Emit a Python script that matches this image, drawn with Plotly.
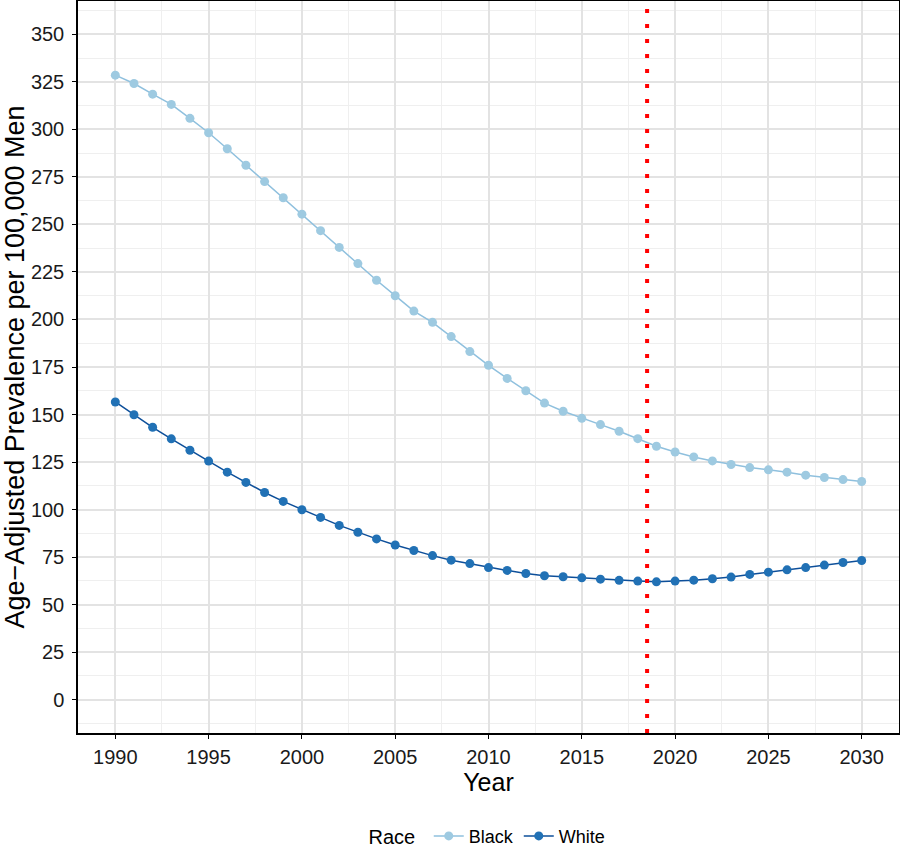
import plotly.graph_objects as go

years = list(range(1990, 2031))
black = [328.5, 324.1, 318.5, 313.1, 305.8, 298.2, 289.8, 281.1, 272.5, 264.0,
         255.4, 246.7, 237.9, 229.4, 220.6, 212.5, 204.4, 198.5, 191.0, 183.1,
         175.9, 169.0, 162.5, 156.0, 151.7, 148.0, 144.7, 141.2, 137.3, 133.3,
         130.3, 127.7, 125.6, 123.7, 122.1, 120.9, 119.7, 118.1, 116.9, 115.8, 114.8]
white = [156.6, 149.9, 143.3, 137.2, 131.2, 125.5, 119.7, 114.3, 109.0, 104.3,
         99.9, 95.9, 91.7, 88.1, 84.6, 81.4, 78.5, 75.8, 73.4, 71.6,
         69.5, 68.0, 66.4, 65.2, 64.7, 64.1, 63.4, 62.8, 62.4, 62.0,
         62.4, 62.9, 63.6, 64.5, 65.9, 67.1, 68.3, 69.5, 70.8, 72.2, 73.2]
cutoff_year = 2018.5
x_ticks = list(range(1990, 2031, 5))
y_ticks = list(range(0, 351, 25))

FONT = "Liberation Sans, Arial"

fig = go.Figure()
fig.add_trace(go.Scatter(x=years, y=black, mode="lines+markers", name="Black",
                         line=dict(color="#8fc0de", width=1.5),
                         marker=dict(color="#9ecae1", size=9)))
fig.add_trace(go.Scatter(x=years, y=white, mode="lines+markers", name="White",
                         line=dict(color="#0d4f9a", width=1.5),
                         marker=dict(color="#2171b5", size=9)))

fig.add_shape(type="line", xref="x", yref="paper", x0=cutoff_year, x1=cutoff_year,
              y0=0, y1=1, line=dict(color="#ff0000", width=4, dash="4px,11px"))

axis_common = dict(showline=True, linecolor="black", linewidth=1.5, mirror=True,
                   ticks="outside", ticklen=4, tickcolor="black", tickwidth=1.2,
                   gridcolor="#e3e3e3", gridwidth=1.5, zeroline=False, automargin=False,
                   tickfont=dict(size=20, color="#1a1a1a", family=FONT))

fig.update_xaxes(range=[1988, 2032], tickvals=x_ticks, ticklabelstandoff=1,
                 minor=dict(dtick=2.5, tick0=1987.5, showgrid=True, gridcolor="#efefef", gridwidth=1, ticks=""),
                 title=dict(text="Year", font=dict(size=25, color="black", family=FONT), standoff=4),
                 **axis_common)
fig.update_yaxes(range=[-17.5, 367.5], tickvals=y_ticks, ticklabelstandoff=4,
                 minor=dict(dtick=12.5, tick0=-12.5, showgrid=True, gridcolor="#efefef", gridwidth=1, ticks=""),
                 title=dict(text="Age\u2212Adjusted Prevalence per 100,000 Men",
                            font=dict(size=27, color="black", family=FONT), standoff=2),
                 **axis_common)

fig.update_layout(
    width=900, height=849,
    margin=dict(l=78, r=1, t=1, b=116, pad=0, autoexpand=False),
    paper_bgcolor="white", plot_bgcolor="white",
    font=dict(family=FONT, color="black"),
    showlegend=True,
    legend=dict(orientation="h", x=0.5, xanchor="center", y=-0.141, yanchor="middle",
                title=dict(text="Race ", font=dict(size=20)),
                font=dict(size=18), itemwidth=30, tracegroupgap=0),
)

fig.write_html("out.html", config={"displayModeBar": False},
               post_script="document.body.style.margin='0';document.body.style.overflow='hidden';")
